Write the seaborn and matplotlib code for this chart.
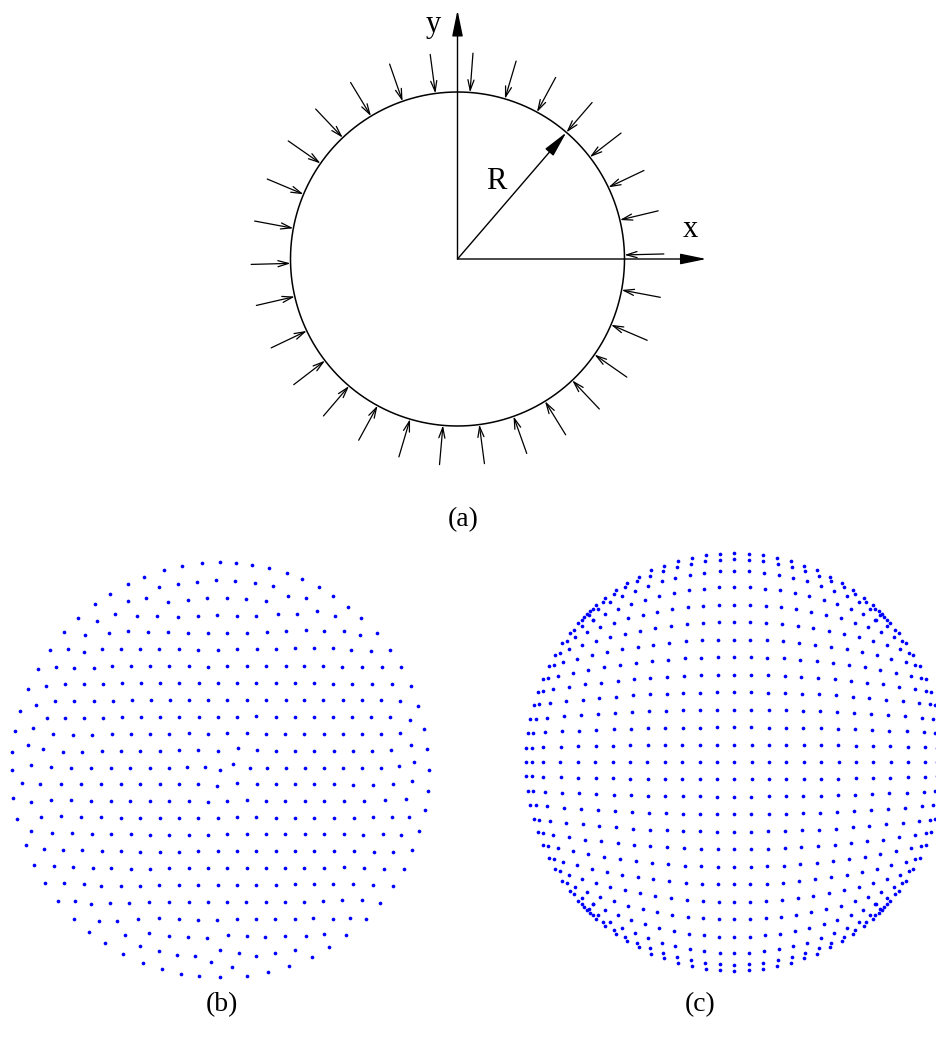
import numpy as np
import pandas as pd
import seaborn as sns
import matplotlib
matplotlib.use('Agg')
import matplotlib.pyplot as plt

sns.set_theme(style='white')
plt.rcParams['font.family'] = ['Liberation Serif', 'DejaVu Serif']
plt.rcParams['text.color'] = 'black'

# ---- (a) disk under uniform radial pressure (units of R) ----
load_angles = [1.4, 13.5, 25.4, 37.6, 49.3, 61.6, 73.5, 85.7, 97.6, 109.2,
               121.2, 133.4, 145.1, 157.2, 169.4, 181.5, 193.0, 205.5, 217.5, 229.5,
               241.4, 253.5, 265.0, 277.5, 289.6, 301.6, 313.4, 325.1, 336.8, 349.3]
load_tail = 1.236      # radius where each load arrow starts
axis_len = 1.49        # length of x / y axis arrows
r_angle = 49.3         # direction of the radius arrow

# ---- (b) hexagonal node set, read in crop pixels (3x, origin at figure px (0,550)) ----
b_points = [
    (547,47),(605,40),(660,37),(707,40),(755,45),(807,55),(491,61),
    (432,80),(860,70),(906,88),(383,102),(534,102),(591,95),(648,91),(706,93),(764,100),(820,107),(478,111),(956,112),
    (330,131),(998,137),(383,153),(438,145),(505,155),(565,150),(622,145),(680,145),(738,148),(797,152),(863,138),(917,145),(284,163),(1044,170),
    (235,203),(292,213),(346,192),(412,199),(472,197),(535,200),(595,198),(652,196),(711,197),(769,199),(833,192),(890,193),(952,184),(1006,197),(1084,203),
    (193,246),(256,256),(326,250),(383,244),(445,247),(504,247),(565,249),(624,248),(682,248),(741,248),(801,245),(859,244),(918,240),(972,243),(1031,242),(1080,255),(1131,250),
    (149,300),(203,298),(253,307),(305,298),(363,298),(419,296),(478,298),(536,298),(595,299),(653,299),(711,298),(770,297),(828,296),(886,295),(942,295),(999,295),(1054,301),(1113,304),(1170,299),
    (113,357),(168,352),(223,354),(282,354),(337,349),(394,348),(451,348),(508,349),(566,349),(625,350),(682,349),(741,349),(799,348),(857,347),(913,347),(970,347),(1027,350),(1085,352),(1145,352),(1204,352),
    (84,418),(137,407),(194,403),(252,403),(310,403),(367,400),(423,399),(480,400),(538,400),(596,400),(653,400),(711,400),(769,399),(827,398),(885,399),(942,399),(999,401),(1056,401),(1115,401),(1175,401),(1233,408),
    (108,465),(166,453),(223,453),(281,453),(338,452),(395,451),(452,450),(509,450),(566,450),(625,451),(682,450),(741,450),(798,449),(857,450),(913,450),(970,451),(1028,451),(1085,451),(1143,451),(1200,454),(1255,467),
    (61,484),(142,503),(196,504),(252,504),(309,503),(366,502),(423,501),(480,500),(538,500),(596,501),(653,500),(711,500),(769,499),(827,500),(884,500),(942,501),(999,502),(1057,502),(1114,502),(1170,501),(1229,509),
    (45,543),(100,533),(160,553),(219,555),(277,554),(336,553),(394,552),(451,551),(508,551),(566,550),(625,551),(682,550),(741,548),(798,551),(856,551),(913,552),(971,552),(1029,552),(1087,552),(1144,552),(1200,548),(1273,536),
    (37,605),(84,586),(130,597),(188,605),(247,605),(305,604),(363,603),(421,603),(479,602),(537,601),(595,600),(653,602),(714,595),(770,601),(828,602),(885,602),(943,602),(1001,603),(1058,603),(1116,603),(1174,601),(1232,584),(1282,597),
    (35,660),(92,646),(152,652),(213,654),(274,654),(333,654),(391,653),(449,653),(507,653),(562,652),(614,651),(660,660),(700,642),(749,653),(802,653),(858,653),(915,653),(972,654),(1030,654),(1087,654),(1143,654),(1196,649),(1241,636),(1286,660),
    (66,700),(121,701),(182,702),(243,703),(304,703),(362,703),(421,703),(479,703),(537,703),(595,703),(651,708),(710,700),(770,703),(828,703),(885,703),(943,703),(1001,703),(1060,704),(1119,704),(1179,703),(1237,694),(1283,722),
    (40,744),(92,756),(152,749),(213,750),(273,752),(333,753),(391,753),(450,753),(508,753),(566,753),(623,755),(682,753),(740,751),(798,753),(856,753),(914,753),(973,753),(1032,753),(1091,753),(1154,751),(1218,747),(1274,779),
    (52,807),(122,800),(184,799),(244,800),(303,802),(362,803),(421,803),(479,803),(537,803),(595,804),(653,803),(711,802),(769,802),(827,803),(885,803),(943,803),(1002,803),(1061,803),(1118,802),(1176,800),(1226,800),
    (94,842),(156,848),(216,850),(275,851),(334,853),(392,853),(451,854),(508,854),(566,854),(625,854),(682,853),(740,853),(798,853),(856,853),(914,853),(973,853),(1032,853),(1090,854),(1148,853),(1203,854),(1258,842),
    (77,885),(131,896),(189,899),(247,901),(305,903),(363,904),(421,905),(479,905),(537,905),(595,904),(653,904),(711,904),(769,904),(827,903),(885,903),(943,902),(1002,903),(1062,904),(1121,905),(1180,906),(1237,901),
    (103,945),(161,948),(220,950),(278,953),(334,955),(392,956),(451,956),(508,955),(566,954),(625,954),(682,954),(740,954),(798,954),(856,954),(913,953),(972,953),(1032,952),(1092,953),(1152,957),(1211,956),
    (136,1000),(193,999),(251,1003),(304,1007),(362,1007),(420,1007),(478,1006),(537,1005),(595,1005),(653,1005),(711,1005),(769,1004),(827,1004),(884,1003),(942,1003),(1000,1001),(1059,1001),(1120,1004),(1178,1008),
    (175,1053),(224,1052),(273,1062),(331,1059),(387,1060),(446,1057),(507,1056),(566,1057),(624,1057),(681,1057),(739,1056),(797,1056),(855,1056),(912,1055),(970,1054),(1027,1051),(1085,1051),(1140,1058),
    (223,1107),(297,1112),(350,1114),(413,1108),(477,1104),(536,1107),(594,1109),(652,1109),(711,1106),(769,1108),(825,1108),(884,1108),(940,1104),(998,1106),(1050,1103),(1097,1106),
    (268,1145),(376,1156),(447,1149),(507,1157),(563,1162),(620,1163),(683,1155),(741,1159),(795,1162),(854,1157),(917,1158),(971,1152),(1038,1155),
    (316,1179),(369,1211),(419,1188),(476,1202),(531,1214),(586,1217),(659,1201),(716,1208),(767,1219),(824,1210),(884,1201),(935,1220),(986,1190),
    (429,1238),(487,1258),(544,1272),(598,1279),(633,1237),(660,1282),(697,1252),(742,1277),(805,1265),(866,1248),
]

# ---- (c) mapped square grid, upper-left quadrant read in crop pixels ----
# rows from the centre row upwards, each listed from the rim to the centre column
c_center = (643, 642)
c_rows_x = [
    [17,35,70,121,174,226,278,330,382,434,487,539,591,643],
    [18,36,70,122,175,227,279,331,383,435,487,539,591,643],
    [23,40,75,126,178,229,281,333,384,436,488,540,592,643],
    [31,48,81,131,182,233,284,335,386,437,489,540,592,643],
    [41,57,90,138,188,238,288,338,389,440,490,541,592,643],
    [54,69,100,148,196,244,293,342,391,442,491,542,593,643],
    [68,84,114,158,205,252,299,347,396,445,494,544,594,643],
    [87,101,129,172,216,261,306,353,400,448,497,546,595,643],
    [106,119,146,186,228,270,315,360,406,452,500,548,596,643],
    [127,140,164,202,241,282,324,368,412,457,503,549,596,643],
    [150,162,185,220,256,294,334,375,418,462,506,551,597,643],
]
c_rows_y = [
    [642]*14,
    [599,599,598,596,595,594,593,592,591,591,590,590,590,590],
    [556,555,552,550,548,546,544,542,541,540,539,539,538,538],
    [514,512,509,505,501,498,495,492,490,488,487,486,486,486],
    [472,469,465,460,455,450,446,442,439,437,435,434,433,433],
    [432,429,424,416,409,404,398,394,389,386,383,381,381,381],
    [393,389,383,374,365,357,350,344,339,335,331,329,328,328],
    [355,351,343,332,322,312,304,296,290,285,280,277,275,275],
    [320,314,304,290,278,267,257,248,241,234,228,224,222,222],
    [286,280,268,253,238,224,211,201,191,184,178,173,171,170],
    [254,247,234,215,198,182,167,155,144,134,126,122,118,117],
]
# nodes crowding at the 45 degree corner
c_corner_x = [219, 206, 201, 175, 228, 185, 220, 193, 210]
c_corner_y = [215, 201, 197, 225, 171, 216, 182, 207, 188]

# ---------------------------------------------------------------
W, H = 936, 1048
fig = plt.figure(figsize=(W / 100, H / 100), dpi=100)

def px_axes(left, top, width, height):
    return fig.add_axes([left / W, 1 - (top + height) / H, width / W, height / H])

# (a)
cx, cy, rad = 457.5, 259.0, 167.0
ax_a = px_axes(cx - 1.6 * rad, cy - 1.6 * rad, 3.2 * rad, 3.2 * rad)
ax_a.set_xlim(-1.6, 1.6)
ax_a.set_ylim(-1.6, 1.6)
ax_a.axis('off')

t = np.linspace(0, 2 * np.pi, 721)
sns.lineplot(x=np.cos(t), y=np.sin(t), sort=False, estimator=None,
             color='black', lw=1.1, ax=ax_a)

for ang in np.radians(load_angles):
    c, s = np.cos(ang), np.sin(ang)
    ax_a.annotate('', xy=(c, s), xytext=(load_tail * c, load_tail * s),
                  arrowprops=dict(arrowstyle='->,head_length=0.75,head_width=0.22',
                                  lw=0.9, color='black', shrinkA=0, shrinkB=0,
                                  mutation_scale=10))

solid = dict(arrowstyle='-|>,head_length=1.6,head_width=0.33', lw=1.0,
             color='black', shrinkA=0, shrinkB=0, mutation_scale=10)
ax_a.annotate('', xy=(axis_len, 0), xytext=(0, 0), arrowprops=solid)
ax_a.annotate('', xy=(0, axis_len), xytext=(0, 0), arrowprops=solid)
ra = np.radians(r_angle)
ax_a.annotate('', xy=(np.cos(ra), np.sin(ra)), xytext=(0, 0), arrowprops=solid)

ax_a.text(-0.147, 1.407, 'y', fontsize=22, color='black', ha='center', va='center')
ax_a.text(1.392, 0.174, 'x', fontsize=22, color='black', ha='center', va='center')
ax_a.text(0.235, 0.463, 'R', fontsize=22, color='black', ha='center', va='center')

# (b)
ax_b = px_axes(0, 550, 440, 440)
bx = [p[0] for p in b_points]
by = [p[1] for p in b_points]
sns.scatterplot(x=bx, y=by, color='blue', s=7, linewidth=0, ax=ax_b)
ax_b.set_xlim(0, 1320)
ax_b.set_ylim(1320, 0)
ax_b.axis('off')

# (c) rebuild the full grid from the quadrant (mirror about diagonal and axes)
qx, qy = [], []
for xs, ys in zip(c_rows_x, c_rows_y):
    for x, y in zip(xs, ys):
        qx.append(x - c_center[0]); qy.append(y - c_center[1])
# outer three columns reflected across the diagonal give the upper rows
for xs, ys in zip(c_rows_x, c_rows_y):
    for x, y in zip(xs[:3], ys[:3]):
        qx.append(y - c_center[1]); qy.append(x - c_center[0])
for x, y in zip(c_corner_x, c_corner_y):
    qx.append(x - c_center[0]); qy.append(y - c_center[1])

pts = set()
for x, y in zip(qx, qy):
    for sx in (1, -1):
        for sy in (1, -1):
            pts.add((sx * x, sy * y))
c_df = pd.DataFrame(sorted(pts), columns=['x', 'y'])

ax_c = px_axes(734.3 - 220, 762 - 220, 440, 440)
sns.scatterplot(data=c_df, x='x', y='y', color='blue', s=7, linewidth=0, ax=ax_c)
ax_c.set_xlim(-660, 660)
ax_c.set_ylim(660, -660)
ax_c.axis('off')

fig.text(463 / W, 1 - 520 / H, '(a)', fontsize=20, color='black', ha='center', va='center')
fig.text(222 / W, 1 - 1005 / H, '(b)', fontsize=20, color='black', ha='center', va='center')
fig.text(700 / W, 1 - 1005 / H, '(c)', fontsize=20, color='black', ha='center', va='center')

fig.savefig('out.png', dpi=100)
